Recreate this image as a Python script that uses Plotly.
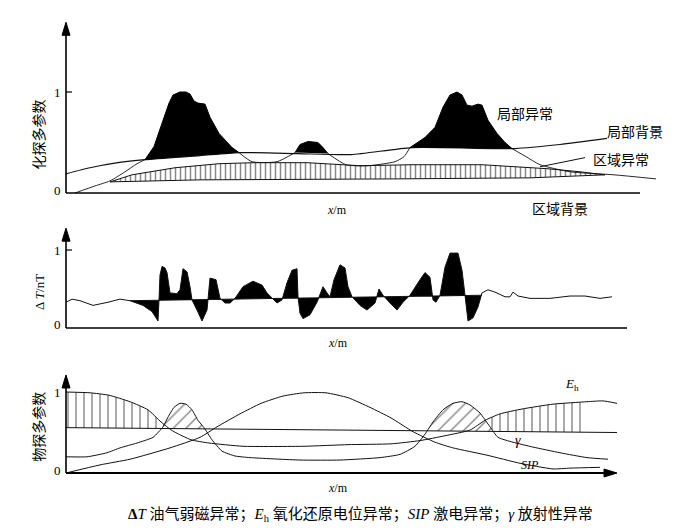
import numpy as np
import plotly.graph_objects as go

# ---------------- Panel 1 : geochemical multi-parameter ----------------
local_bg_x = [0, 24, 52, 79, 134, 173, 232, 285, 346, 449, 494, 541]
local_bg_y = [0.19, 0.25, 0.30, 0.33, 0.37, 0.40, 0.39, 0.38, 0.45, 0.44, 0.48, 0.54]

peak1_x = [79, 88, 96, 103, 107, 114, 120, 124, 128, 132, 139, 144, 153, 166, 173]
peak1_y = [0.33, 0.46, 0.69, 0.89, 0.97, 1.0, 1.0, 0.98, 0.91, 0.89, 0.88, 0.75, 0.59, 0.45, 0.40]
peak2_x = [229, 234, 242, 252, 257, 262]
peak2_y = [0.40, 0.48, 0.51, 0.50, 0.45, 0.39]
peak3_x = [344, 359, 369, 377, 384, 391, 396, 401, 406, 412, 416, 422, 431, 439, 446]
peak3_y = [0.45, 0.55, 0.65, 0.85, 0.97, 1.0, 0.97, 0.87, 0.86, 0.88, 0.87, 0.72, 0.59, 0.50, 0.44]

envelope_x = [9, 29, 44, 59, 71, 79, None, 173, 186, 211, 229, None,
              262, 280, 302, 329, 338, 344, None, 446, 460, 474, 504, 548, 590]
envelope_y = [0.0, 0.07, 0.12, 0.21, 0.29, 0.33, None, 0.40, 0.31, 0.31, 0.40, None,
              0.39, 0.28, 0.27, 0.31, 0.36, 0.45, None, 0.44, 0.36, 0.28, 0.21, 0.18, 0.14]

region_low_x = [44, 134, 334, 464, 539]
region_low_y = [0.11, 0.13, 0.14, 0.15, 0.18]
region_up_x = [44, 66, 109, 153, 188, 241, 294, 346, 416, 452, 482, 514, 539]
region_up_y = [0.11, 0.18, 0.25, 0.29, 0.30, 0.30, 0.27, 0.28, 0.28, 0.26, 0.24, 0.21, 0.18]

# ---------------- Panel 2 : ΔT ----------------
dT_x = [0, 6, 14, 27, 42, 54, 64, 77, 86, 90, 92, 93, 94, 96, 99, 101, 104,
        111, 114, 117, 121, 124, 126, 131, 136, 141, 144, 150, 154, 159, 164, 169,
        177, 187, 196, 201, 206, 211, 216, 221, 226, 231, 232, 234, 237, 244, 251,
        257, 261, 264, 268, 274, 279, 282, 286, 294, 301, 309, 313, 317, 324, 331,
        337, 344, 354, 359, 364, 367, 370, 374, 379, 384, 392, 396, 399, 401, 402,
        407, 412, 416, 422, 429, 439, 444, 447, 452, 464, 484, 504, 519, 534, 546]
dT_y = [0.33, 0.37, 0.35, 0.29, 0.33, 0.37, 0.35, 0.29, 0.21, 0.13, 0.09, 0.36, 0.68,
        0.79, 0.77, 0.71, 0.45, 0.44, 0.49, 0.76, 0.72, 0.53, 0.36, 0.23, 0.09, 0.23,
        0.64, 0.62, 0.38, 0.32, 0.32, 0.38, 0.53, 0.60, 0.55, 0.45, 0.38, 0.32, 0.36,
        0.58, 0.74, 0.76, 0.40, 0.19, 0.12, 0.17, 0.33, 0.53, 0.45, 0.40, 0.62, 0.81,
        0.77, 0.53, 0.40, 0.29, 0.23, 0.32, 0.50, 0.42, 0.32, 0.23, 0.33, 0.42, 0.62,
        0.71, 0.65, 0.36, 0.33, 0.42, 0.78, 0.96, 0.96, 0.74, 0.42, 0.14, 0.09, 0.13,
        0.27, 0.45, 0.49, 0.46, 0.40, 0.40, 0.46, 0.41, 0.38, 0.38, 0.41, 0.41, 0.38, 0.40]
dT_base_x = [64, 416]
dT_base_y = [0.35, 0.42]

# ---------------- Panel 3 : geophysical multi-parameter ----------------
thr_x = [0, 551]
thr_y = [0.56, 0.50]
eh_x = [0, 24, 43, 64, 82, 95, 102, 108, 125, 143, 177, 238, 282, 325, 354, 379,
        404, 419, 434, 456, 487, 521, 537, 551]
eh_y = [1.0, 0.99, 0.96, 0.88, 0.78, 0.63, 0.56, 0.51, 0.41, 0.37, 0.33, 0.33, 0.35,
        0.36, 0.40, 0.46, 0.53, 0.65, 0.73, 0.79, 0.85, 0.88, 0.89, 0.86]
gam_x = [0, 21, 41, 54, 71, 87, 97, 102, 108, 114, 120, 126, 132, 138, 146, 156, 169,
         184, 234, 274, 314, 334, 349, 359, 367, 377, 387, 396, 404, 414, 424, 432,
         447, 467, 494, 521, 542]
gam_y = [0.20, 0.20, 0.25, 0.31, 0.37, 0.44, 0.57, 0.69, 0.81, 0.86, 0.85, 0.78, 0.65,
         0.56, 0.41, 0.27, 0.21, 0.19, 0.16, 0.16, 0.19, 0.23, 0.33, 0.48, 0.63, 0.78,
         0.86, 0.88, 0.84, 0.74, 0.57, 0.44, 0.38, 0.32, 0.25, 0.19, 0.17]
sip_x = [0, 34, 64, 104, 134, 151, 174, 195, 217, 238, 260, 282, 304, 325, 347, 369,
         387, 421, 454, 487, 504, 534]
sip_y = [0.0, 0.10, 0.17, 0.31, 0.44, 0.57, 0.73, 0.86, 0.95, 0.99, 0.99, 0.93, 0.81,
         0.68, 0.51, 0.38, 0.31, 0.22, 0.12, 0.05, 0.06, 0.07]
eh_hatch_end = 525

INK = "#111111"
CJK = "Noto Sans CJK SC"
SERIF = "Liberation Serif, Noto Sans CJK SC"

# the page body adds an 8 px margin; the figure is sized to sit inside it
W, H, OFF = 674, 521, 8


def regions_above(cx, cy, tx, ty, xmax=None):
    """Polygons where the curve lies above the straight threshold line."""
    cx = np.asarray(cx, float)
    cy = np.asarray(cy, float)
    d = cy - np.interp(cx, tx, ty)
    polys, cur = [], None
    for i in range(len(cx)):
        if xmax is not None and cx[i] > xmax:
            break
        if d[i] >= 0:
            if cur is None:
                cur = []
                if i > 0 and d[i - 1] < 0:
                    f = d[i - 1] / (d[i - 1] - d[i])
                    xc = cx[i - 1] + f * (cx[i] - cx[i - 1])
                    cur.append((xc, float(np.interp(xc, tx, ty))))
            cur.append((cx[i], cy[i]))
            if i + 1 < len(cx) and d[i + 1] < 0:
                f = d[i] / (d[i] - d[i + 1])
                xc = cx[i] + f * (cx[i + 1] - cx[i])
                cur.append((xc, float(np.interp(xc, tx, ty))))
                polys.append(cur)
                cur = None
    if cur:
        polys.append(cur)
    out = []
    for p in polys:
        xs = [q[0] for q in p]
        ys = [q[1] for q in p]
        xs += [xs[-1], xs[0]]
        ys += [float(np.interp(xs[-2], tx, ty)), float(np.interp(xs[0], tx, ty))]
        out.append((xs, ys))
    return out


fig = go.Figure()

# ---- panel 1 traces (yaxis y) ----
fig.add_trace(go.Scatter(x=region_low_x, y=region_low_y, mode="lines",
                         line=dict(color=INK, width=1), yaxis="y", hoverinfo="skip"))
fig.add_trace(go.Scatter(x=region_up_x, y=region_up_y, mode="lines", fill="tonexty",
                         fillcolor="white",
                         fillpattern=dict(shape="|", size=5, solidity=0.3,
                                          fgcolor="#111", bgcolor="white"),
                         line=dict(color=INK, width=1), yaxis="y", hoverinfo="skip"))
fig.add_trace(go.Scatter(x=local_bg_x, y=local_bg_y, mode="lines",
                         line=dict(color=INK, width=1.2, shape="spline", smoothing=0.6),
                         yaxis="y", hoverinfo="skip"))
fig.add_trace(go.Scatter(x=envelope_x, y=envelope_y, mode="lines",
                         line=dict(color=INK, width=0.9, shape="spline", smoothing=0.6),
                         yaxis="y", hoverinfo="skip", connectgaps=False))
for px_, py_ in [(peak1_x, peak1_y), (peak2_x, peak2_y), (peak3_x, peak3_y)]:
    fig.add_trace(go.Scatter(x=px_, y=py_, mode="lines", fill="toself",
                             fillcolor="black", line=dict(color="black", width=1),
                             yaxis="y", hoverinfo="skip"))

# ---- panel 2 traces (yaxis y2) ----
dTx = np.asarray(dT_x, float)
dTy = np.asarray(dT_y, float)
sel = (dTx >= dT_base_x[0]) & (dTx <= dT_base_x[1])
fx = list(dTx[sel]) + dT_base_x[::-1]
fy = list(dTy[sel]) + dT_base_y[::-1]
fig.add_trace(go.Scatter(x=fx, y=fy, mode="lines", fill="toself", fillcolor="black",
                         line=dict(width=0), yaxis="y2", hoverinfo="skip"))
fig.add_trace(go.Scatter(x=dT_base_x, y=dT_base_y, mode="lines",
                         line=dict(color=INK, width=1), yaxis="y2", hoverinfo="skip"))
fig.add_trace(go.Scatter(x=dT_x, y=dT_y, mode="lines",
                         line=dict(color=INK, width=1), yaxis="y2", hoverinfo="skip"))

# ---- panel 3 traces (yaxis y3) ----
for xs, ys in regions_above(eh_x, eh_y, thr_x, thr_y, xmax=eh_hatch_end):
    fig.add_trace(go.Scatter(x=xs, y=ys, mode="lines", fill="toself", fillcolor="white",
                             fillpattern=dict(shape="|", size=8, solidity=0.18,
                                              fgcolor="#111", bgcolor="white"),
                             line=dict(width=0), yaxis="y3", hoverinfo="skip"))
for xs, ys in regions_above(gam_x, gam_y, thr_x, thr_y):
    fig.add_trace(go.Scatter(x=xs, y=ys, mode="lines", fill="toself", fillcolor="white",
                             fillpattern=dict(shape="/", size=9, solidity=0.16,
                                              fgcolor="#111", bgcolor="white"),
                             line=dict(width=0), yaxis="y3", hoverinfo="skip"))
for cx, cy in [(thr_x, thr_y), (eh_x, eh_y), (gam_x, gam_y), (sip_x, sip_y)]:
    fig.add_trace(go.Scatter(x=cx, y=cy, mode="lines",
                             line=dict(color=INK, width=1, shape="spline", smoothing=0.5),
                             yaxis="y3", hoverinfo="skip"))

# ---------------- axes, arrows, labels ----------------
UP_HEAD = "M -4 -13 L 0 0 L 4 -13 Z"
RIGHT_HEAD = "M -13 -4 L 0 0 L -13 4 Z"


def axis_line(x0, y0, x1, y1, yref, width=1.6):
    return dict(type="line", xref="x", yref=yref, x0=x0, x1=x1, y0=y0, y1=y1,
                line=dict(color="black", width=width))


def head(x, y, yref, path):
    return dict(type="path", xref="x", yref=yref, xsizemode="pixel", ysizemode="pixel",
                xanchor=x, yanchor=y, path=path, fillcolor="black",
                line=dict(color="black", width=1))


shapes = [
    axis_line(0, 0, 574, 0, "y"),
    axis_line(0, 0, 0, 1.60, "y"), head(0, 1.69, "y", UP_HEAD),
    axis_line(0, 0, 561, 0, "y2"),
    axis_line(0, 0, 0, 1.18, "y2"), head(0, 1.28, "y2", UP_HEAD),
    axis_line(0, 0, 545, 0, "y3", width=2),
    axis_line(0, 0, 0, 1.12, "y3"), head(0, 1.21, "y3", UP_HEAD),
    head(551, 0, "y3", RIGHT_HEAD),
    axis_line(0, 1, 6, 1, "y", width=1.2),
    axis_line(0, 1, 6, 1, "y2", width=1.2),
    # leader for 区域异常
    dict(type="line", xref="x", yref="y", x0=474, x1=519, y0=0.26, y1=0.35,
         line=dict(color=INK, width=1)),
]

ann = []


def label(x, y, text, yref, size=13, font=CJK, angle=0, xanchor="center"):
    ann.append(dict(x=x, y=y, xref="x", yref=yref, text=text, showarrow=False,
                    textangle=angle, xanchor=xanchor, yanchor="middle",
                    font=dict(family=font, size=size, color="black")))


# ticks
for yr in ["y", "y2", "y3"]:
    label(-9, 1, "1", yr, size=13, font=SERIF)
label(-9, 0.02, "0", "y", size=13, font=SERIF)
label(-9, 0.04, "0", "y2", size=13, font=SERIF)
label(-9, 0.03, "0", "y3", size=13, font=SERIF)

# panel 1 texts
label(-28, 0.58, "化探多参数", "y", size=14, angle=-90)
label(459, 0.79, "局部异常", "y", size=14)
label(569, 0.61, "局部背景", "y", size=14)
label(555, 0.34, "区域异常", "y", size=14)
label(494, -0.15, "区域背景", "y", size=14)
label(271, -0.17, "<i>x</i>/m", "y", size=12, font=SERIF)

# panel 2 texts
label(-27, 0.46, "Δ <i>T</i>/nT", "y2", size=13, font=SERIF, angle=-90)
label(272, -0.19, "<i>x</i>/m", "y2", size=12, font=SERIF)

# panel 3 texts
label(-28, 0.57, "物探多参数", "y3", size=14, angle=-90)
label(506, 1.09, "<i>E</i><sub>h</sub>", "y3", size=13, font=SERIF)
label(452, 0.40, "<i>γ</i>", "y3", size=14, font=SERIF)
label(464, 0.10, "<i>SIP</i>", "y3", size=12, font=SERIF)
label(272, -0.19, "<i>x</i>/m", "y3", size=12, font=SERIF)

ann.append(dict(x=(360 - OFF) / W, y=1 - (515 - OFF) / H, xref="paper", yref="paper",
                showarrow=False,
                text="<b>Δ</b><i>T</i> 油气弱磁异常；<i>E</i><sub>h</sub> 氧化还原电位异常；"
                     "<i>SIP</i> 激电异常；<i>γ</i> 放射性异常",
                font=dict(family=SERIF, size=15, color="black"),
                xanchor="center", yanchor="middle"))

x0 = 66 - OFF
fig.update_layout(
    width=W, height=H,
    margin=dict(l=0, r=0, t=0, b=0),
    paper_bgcolor="white", plot_bgcolor="white",
    showlegend=False,
    xaxis=dict(range=[-x0, W - x0], visible=False, domain=[0, 1], fixedrange=True),
    yaxis=dict(range=[-(H - 185) / 101, 185 / 101], visible=False, domain=[0, 1]),
    yaxis2=dict(range=[-(H - 320) / 78, 320 / 78], visible=False, domain=[0, 1],
                overlaying="y", anchor="x"),
    yaxis3=dict(range=[-(H - 465) / 81, 465 / 81], visible=False, domain=[0, 1],
                overlaying="y", anchor="x"),
    shapes=shapes,
    annotations=ann,
)

fig.write_html("out.html")
